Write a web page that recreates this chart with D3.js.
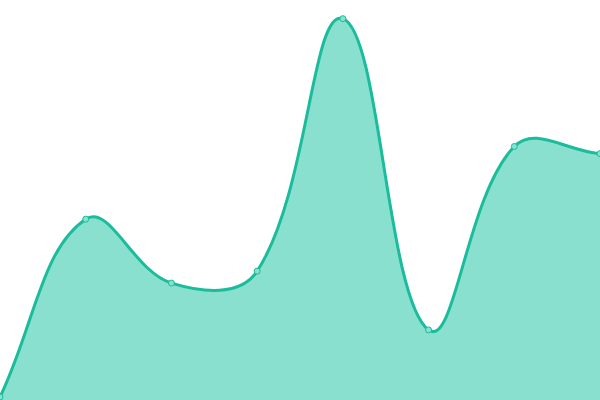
<!DOCTYPE html>
<html>
<head>
<meta charset="utf-8">
<script src="https://cdn.jsdelivr.net/npm/d3@7"></script>
<style>
  html, body { margin: 0; padding: 0; background: #fff; }
  svg { display: block; }
</style>
</head>
<body>
<div id="chart"></div>
<script>
// data
var labels = ["A", "B", "C", "D", "E", "F", "G", "H"];
var values = [0, 44.8, 28.7, 31.7, 95.3, 16.9, 63.1, 61.3];

var width = 600,
    height = 400;

// spline with distance weighted control points (tension 0.4)
function TensionSpline(context, t) {
    this._context = context;
    this._t = t;
}
TensionSpline.prototype = {
    areaStart: function() { this._line = 0; },
    areaEnd: function() { this._line = NaN; },
    lineStart: function() { this._pts = []; },
    point: function(x, y) { this._pts.push([+x, +y]); },
    lineEnd: function() {
        var p = this._pts, n = p.length, c = this._context, t = this._t;
        if (n) {
            if (this._line) c.lineTo(p[0][0], p[0][1]);
            else c.moveTo(p[0][0], p[0][1]);
            if (n == 2) c.lineTo(p[1][0], p[1][1]);
            else if (n > 2) {
                var cps = p.map(function(cur, i) {
                    var prev = p[Math.max(i - 1, 0)], next = p[Math.min(i + 1, n - 1)];
                    var d01 = Math.hypot(cur[0] - prev[0], cur[1] - prev[1]),
                        d12 = Math.hypot(next[0] - cur[0], next[1] - cur[1]);
                    var s01 = d01 / (d01 + d12), s12 = d12 / (d01 + d12);
                    if (isNaN(s01)) s01 = 0;
                    if (isNaN(s12)) s12 = 0;
                    var fa = t * s01, fb = t * s12;
                    var clampY = function(v) { return Math.max(0, Math.min(height, v)); };
                    return {
                        prev: [cur[0] - fa * (next[0] - prev[0]), clampY(cur[1] - fa * (next[1] - prev[1]))],
                        next: [cur[0] + fb * (next[0] - prev[0]), clampY(cur[1] + fb * (next[1] - prev[1]))]
                    };
                });
                for (var i = 1; i < n; i++) {
                    c.bezierCurveTo(cps[i - 1].next[0], cps[i - 1].next[1],
                                    cps[i].prev[0], cps[i].prev[1],
                                    p[i][0], p[i][1]);
                }
            }
        }
        if (this._line || (this._line !== 0 && n === 1)) c.closePath();
        this._line = 1 - this._line;
    }
};
var curveSpline = function(context) { return new TensionSpline(context, 0.4); };

var x = d3.scalePoint()
    .domain(labels)
    .range([0, width]);

var y = d3.scaleLinear()
    .domain([0, 100])
    .range([397, 0]);

var svg = d3.select("#chart").append("svg")
    .attr("width", width)
    .attr("height", height);

var pts = labels.map(function(d, i) { return {label: d, value: values[i]}; });

var area = d3.area()
    .x(function(d) { return x(d.label); })
    .y0(height)
    .y1(function(d) { return y(d.value); })
    .curve(curveSpline);

var line = d3.line()
    .x(function(d) { return x(d.label); })
    .y(function(d) { return y(d.value); })
    .curve(curveSpline);

svg.append("path")
    .datum(pts)
    .attr("d", area)
    .attr("fill", "#89e0cf");

svg.append("path")
    .datum(pts)
    .attr("d", line)
    .attr("fill", "none")
    .attr("stroke", "#1abc9c")
    .attr("stroke-width", 3);

svg.selectAll("circle")
    .data(pts)
    .enter().append("circle")
    .attr("cx", function(d) { return x(d.label); })
    .attr("cy", function(d) { return y(d.value); })
    .attr("r", 3)
    .attr("fill", "#89e0cf")
    .attr("stroke", "#1abc9c")
    .attr("stroke-width", 1);
</script>
</body>
</html>
